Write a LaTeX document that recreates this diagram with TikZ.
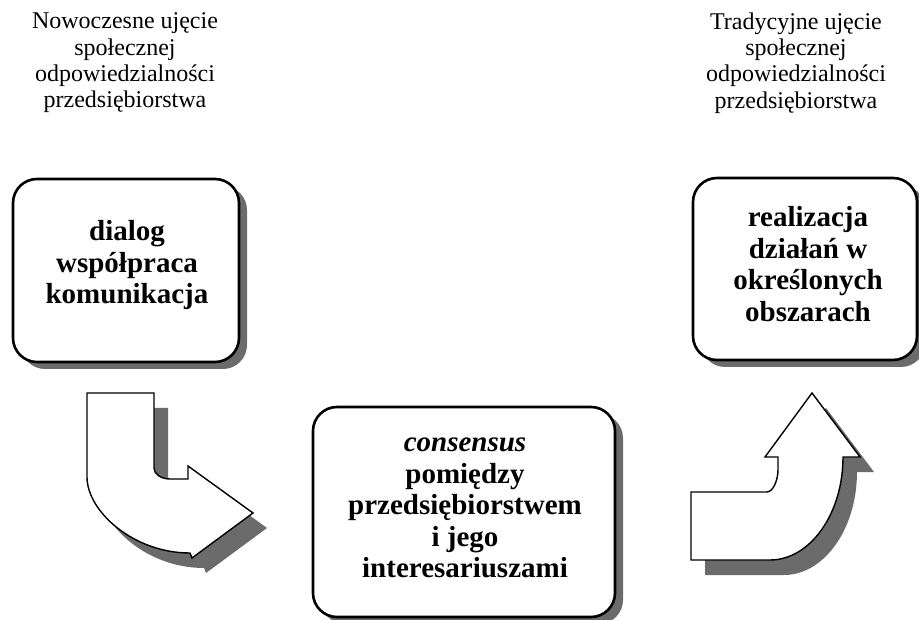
\documentclass[tikz,border=0pt]{standalone}
\usepackage{fontspec}
\setmainfont{Liberation Serif}
\usetikzlibrary{shadows,calc}
\definecolor{shadowgray}{gray}{0.42}
\begin{document}
\begin{tikzpicture}[x=1pt,y=-1pt,
  box/.style={draw=black, line width=2.6pt, rounded corners=24pt, fill=white,
    general shadow={shadow xshift=8pt, shadow yshift=-7pt, fill=shadowgray}},
  boxtext/.style={align=center, inner sep=0pt, font=\fontsize{29}{31.5}\selectfont\bfseries},
  toplabel/.style={align=center, inner sep=0pt, font=\fontsize{24}{26.3}\selectfont},
  bentarrow/.style={draw=black, line width=1.4pt, fill=white, line join=miter,
    general shadow={shadow xshift=14pt, shadow yshift=-15pt, fill=shadowgray}}]
\useasboundingbox (0,0) rectangle (919,620);

% top labels
\node[toplabel] (lt) at (125,63) {Nowoczesne ujęcie\\społecznej\\odpowiedzialności\\przedsiębiorstwa};
\node[toplabel] (rt) at (796,63) {Tradycyjne ujęcie\\społecznej\\odpowiedzialności\\przedsiębiorstwa};

% boxes
\node[box, minimum width=226pt, minimum height=183pt] (b1) at (126,270.5) {};
\node[boxtext] (t1) at ($(b1.center)+(1,-5)$) {dialog\\współpraca\\komunikacja};

\node[box, minimum width=302pt, minimum height=210pt] (b2) at (464,512) {};
\node[boxtext] (t2) at ($(b2.center)+(1,-4)$) {\textit{consensus}\\pomiędzy\\przedsiębiorstwem\\i jego\\interesariuszami};

\node[box, minimum width=224pt, minimum height=182pt] (b3) at (805,269) {};
\node[boxtext] (t3) at ($(b3.center)+(3,-5)$) {realizacja\\działań w\\określonych\\obszarach};

% bent arrow down-right
\path[bentarrow] (87,393) -- (154,393) -- (154,468)
  .. controls (154,474) and (161,479) .. (170,479)
  -- (188,479) -- (188,466) -- (253,513) -- (192,558) -- (190,553)
  .. controls (133,553) and (87,511) .. (87,477) -- cycle;

% bent arrow right-up
\path[bentarrow] (691,492) -- (767,492)
  .. controls (773,492) and (778,480) .. (778,470)
  -- (778,457) -- (765,457) -- (812,393) -- (860,457) -- (843,457)
  .. controls (843,514) and (810,560) .. (770,560)
  -- (691,560) -- cycle;
\end{tikzpicture}
\end{document}
